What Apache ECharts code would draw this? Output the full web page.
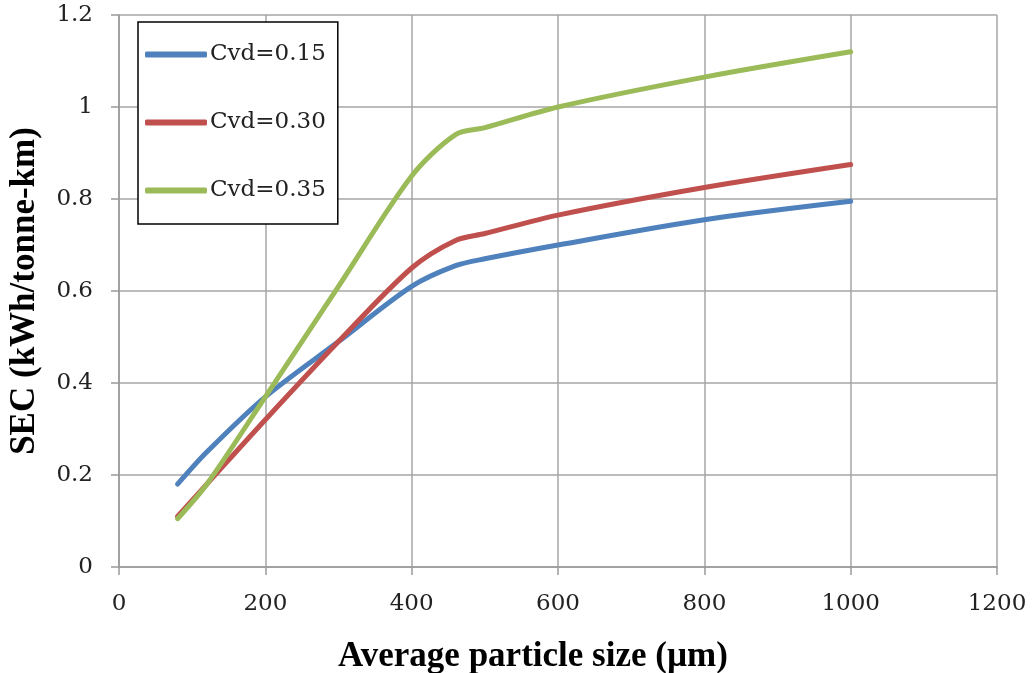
<!DOCTYPE html>
<html>
<head>
<meta charset="utf-8">
<script src="https://cdn.jsdelivr.net/npm/echarts@6/dist/echarts.min.js"></script>
<style>
  html, body { margin: 0; padding: 0; background: #fff; }
  #ch1 { width: 1033px; height: 673px; }
</style>
</head>
<body>
<div id="ch1"></div>
<script>
var names = ['Cvd=0.15', 'Cvd=0.30', 'Cvd=0.35'];
var sizes = [80, 120, 200, 300, 400, 460, 500, 600, 800, 1000];
var cvd15 = [0.18, 0.25, 0.37, 0.49, 0.61, 0.655, 0.67, 0.70, 0.755, 0.795];
var cvd30 = [0.11, 0.18, 0.32, 0.49, 0.65, 0.71, 0.725, 0.765, 0.825, 0.875];
var cvd35 = [0.105, 0.18, 0.37, 0.61, 0.85, 0.94, 0.955, 1.0, 1.065, 1.12];
var colors = ['#4F81BD', '#C0504D', '#9BBB59'];

function pairs(ys) {
  return sizes.map(function (x, i) { return [x, ys[i]]; });
}

window.onload = function() {
  var ch1 = echarts.init(document.getElementById('ch1'));
  var serif = '"Liberation Serif", "DejaVu Serif", serif';
  var tickFont = '"DejaVu Serif", serif';
  var op1 = {
    animation: false,
    color: colors,
    grid: {
      left: 119,
      right: 36,
      top: 15,
      bottom: 106,
      containLabel: false,
      outerBoundsMode: 'none'
    },
    legend: {
      data: names,
      orient: 'vertical',
      left: 138,
      top: 22,
      backgroundColor: '#fff',
      borderColor: '#000',
      borderWidth: 1.5,
      padding: [21, 12, 22, 7],
      itemGap: 45,
      itemWidth: 62,
      itemHeight: 6,
      icon: 'roundRect',
      textStyle: {
        fontFamily: tickFont,
        fontSize: 23,
        lineHeight: 23,
        color: '#222',
        padding: [0, 0, 0, -2]
      }
    },
    xAxis: {
      type: 'value',
      min: 0,
      max: 1200,
      interval: 200,
      name: 'Average particle size (\u00b5m)',
      nameLocation: 'middle',
      nameGap: 72,
      nameTextStyle: {
        fontFamily: serif,
        fontWeight: 'bold',
        fontSize: 35,
        color: '#000',
        padding: [0, 50, 0, 0]
      },
      axisLine: { show: true, lineStyle: { color: '#999', width: 1.5 } },
      axisTick: { show: true, length: 8, lineStyle: { color: '#999', width: 1.5 } },
      axisLabel: {
        fontFamily: tickFont,
        fontSize: 23,
        color: '#222',
        margin: 26,
        formatter: function (v) { return String(v); }
      },
      splitLine: { show: true, lineStyle: { color: '#a6a6a6', width: 1.5 } }
    },
    yAxis: {
      type: 'value',
      min: 0,
      max: 1.2,
      interval: 0.2,
      name: 'SEC (kWh/tonne-km)',
      nameLocation: 'middle',
      nameGap: 77,
      nameTextStyle: {
        fontFamily: serif,
        fontWeight: 'bold',
        fontSize: 35,
        color: '#000'
      },
      axisLine: { show: true, lineStyle: { color: '#999', width: 1.5 } },
      axisTick: { show: true, length: 8, lineStyle: { color: '#999', width: 1.5 } },
      axisLabel: {
        fontFamily: tickFont,
        fontSize: 23,
        color: '#222',
        margin: 26
      },
      splitLine: { show: true, lineStyle: { color: '#a6a6a6', width: 1.5 } }
    },
    series: [cvd15, cvd30, cvd35].map(function (ys, i) {
      return {
        name: names[i],
        type: 'line',
        smooth: 0.3,
        symbol: 'none',
        data: pairs(ys),
        lineStyle: { width: 5, color: colors[i], cap: 'round' }
      };
    })
  };
  ch1.setOption(op1);
};
</script>
</body>
</html>
